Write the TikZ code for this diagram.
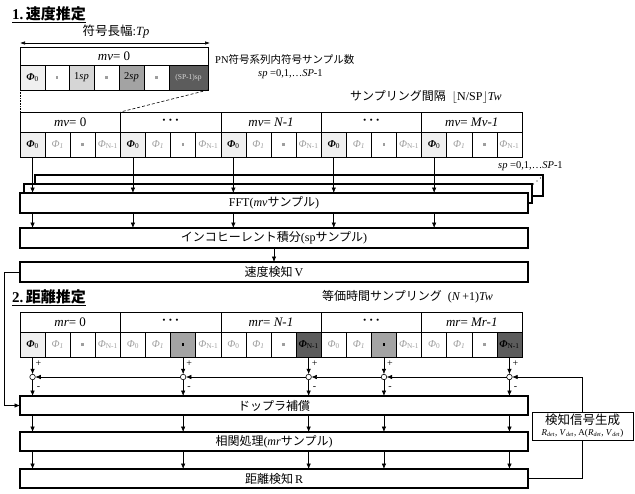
\documentclass[tikz,border=0pt]{standalone}
\usepackage{fontspec}
\setmainfont{Liberation Serif}
\newfontfamily\jp{Noto Sans CJK JP}
\usetikzlibrary{arrows.meta}
\definecolor{lgt}{gray}{0.62}
\definecolor{cz}{gray}{0.94}
\definecolor{cone}{gray}{0.84}
\definecolor{ctwo}{gray}{0.64}
\definecolor{cdark}{gray}{0.36}
\newcommand\PhZ{\textbf{\textit{Φ}}\textsubscript{0}}
\newcommand\PhZl{\textcolor{lgt}{\textit{Φ}\textsubscript{0}}}
\newcommand\PhO{\textcolor{lgt}{\textit{Φ}\textsubscript{\textit{1}}}}
\newcommand\PhN{\textcolor{lgt}{\textit{Φ}\textsubscript{N-1}}}
\newcommand\PhNb{\textbf{\textit{Φ}}\textsubscript{N-1}}
\newcommand\Sq[1]{\textcolor{#1}{\rule[0.6pt]{2.6pt}{2.6pt}}}
\tikzset{
  cell/.style={draw, line width=0.6pt, minimum width=25.1pt, minimum height=25pt, inner sep=0pt, outer sep=0pt, font=\fontsize{10.5}{11}\selectfont},
  hdr/.style={draw, line width=0.6pt, minimum width=100.4pt, minimum height=20pt, inner sep=0pt, outer sep=0pt, font=\fontsize{13}{14}\selectfont},
  box/.style={draw, line width=1.1pt, fill=white, minimum width=508pt, minimum height=20pt, inner sep=0pt, outer sep=0pt, font=\fontsize{12}{13}\selectfont},
  arr/.style={-{Latex[length=5.5pt,width=4.5pt]}, line width=0.6pt},
  jn/.style={circle, draw, fill=white, line width=0.6pt, minimum size=5.5pt, inner sep=0pt, outer sep=0pt},
  pm/.style={inner sep=0pt, font=\fontsize{10}{11}\selectfont},
  txt/.style={inner sep=0pt, anchor=west}
}
\begin{document}
\begin{tikzpicture}[x=1pt,y=-1pt]
\useasboundingbox (0,0) rectangle (635,493);
% ---------- titles
\node[txt, font=\fontsize{15}{16}\selectfont\bfseries] (t1) at (12,15) {\underline{1.\,{\jp 速度推定}}};
\node[txt, font=\fontsize{15}{16}\selectfont\bfseries] (t2) at (12,298) {\underline{2.\,{\jp 距離推定}}};
% ---------- symbol length
\coordinate (tpL) at (20,43);
\coordinate (tpR) at (210,43);
\draw[{Latex[length=5pt,width=3.5pt]}-{Latex[length=5pt,width=3.5pt]}, line width=0.6pt] (tpL) -- (tpR);
\node[inner sep=0pt, font=\fontsize{12.5}{13}\selectfont] (tp) at (116,32) {{\jp 符号長幅}:\textit{Tp}};
% ---------- small table
\node[draw, line width=0.6pt, minimum width=188pt, minimum height=18pt, inner sep=0pt, outer sep=0pt, font=\fontsize{13}{14}\selectfont] (smh) at (114,56) {\textit{mv}= 0};
\node[cell, fill=cz, minimum width=25pt] (s1) at (32.5,77.5) {\PhZ};
\node[cell, minimum width=24pt] (s2) at (57,77.5) {\Sq{lgt}};
\node[cell, fill=cone, minimum width=25pt] (s3) at (81.5,77.5) {1\textit{sp}};
\node[cell, minimum width=25pt] (s4) at (106.5,77.5) {\Sq{lgt}};
\node[cell, fill=ctwo, minimum width=25pt] (s5) at (131.5,77.5) {2\textit{sp}};
\node[cell, minimum width=25pt] (s6) at (156.5,77.5) {\Sq{lgt}};
\node[cell, fill=cdark, minimum width=39pt, font=\fontsize{7.5}{8}\selectfont] (s7) at (188.5,77.5) {\textcolor{gray!30}{(SP-1)sp}};
\node[txt, font=\fontsize{10.5}{12}\selectfont] (pn) at (215,60) {PN{\jp 符号系列内符号サンプル数}};
\node[txt, font=\fontsize{10.5}{12}\selectfont] (sp1) at (258,74) {\textit{sp} =0,1,\ldots\textit{SP}-1};
\node[txt, font=\fontsize{12}{13}\selectfont] (samp) at (350,97) {{\jp サンプリング間隔}\ \ $\lfloor$N/SP$\rfloor$\textit{Tw}};
% ---------- velocity table
\foreach \g/\t in {0/{\textit{mv}= 0},1/{\textbf{·\,·\,·}},2/{\textit{mv}= \textit{N-1}},3/{\textbf{·\,·\,·}},4/{\textit{mv}= \textit{Mv-1}}}{
  \pgfmathsetmacro\xl{20+100.4*\g}
  \node[hdr] (vh\g) at (\xl+50.2,122) {\t};
  \node[cell, fill=cz] (v\g-a) at (\xl+12.55,144.5) {\PhZ};
  \node[cell] (v\g-b) at (\xl+37.65,144.5) {\PhO};
  \node[cell] (v\g-c) at (\xl+62.75,144.5) {\Sq{lgt}};
  \node[cell] (v\g-d) at (\xl+87.85,144.5) {\PhN};
}
\draw[densely dotted, line width=0.6pt] (s1.south west) -- (vh0.north west);
\draw[densely dashed, line width=0.6pt] (s7.south east) -- (vh1.north west);
\node[txt, font=\fontsize{10.5}{12}\selectfont] (sp2) at (498,166) {\textit{sp} =0,1,\ldots\textit{SP}-1};
% ---------- FFT stack
\node[box, minimum height=21pt] (fftB) at (289,185.5) {};
\node[box, minimum height=19pt] (fftM) at (278,193.5) {};
\node[box] (fft) at (274,203) {FFT(\textit{mv}{\jp サンプル})};
\fill (533.5,184) circle (0.7pt) (537,181) circle (0.7pt) (540.5,178) circle (0.7pt);
\foreach \g in {0,...,4}{
  \draw[arr] (v\g-a.south) -- (v\g-a.south |- fft.north);
}
\node[box] (inc) at (274,238) {{\jp インコヒーレント積分}(sp{\jp サンプル})};
\foreach \g in {0,...,4}{
  \draw[arr] (v\g-a.south |- fft.south) -- (v\g-a.south |- inc.north);
}
\node[box] (vdet) at (274,272) {{\jp 速度検知}\,V};
\draw[arr] (inc.south) -- (vdet.north);
% ---------- range table
\node[txt, font=\fontsize{12}{13}\selectfont] (eq) at (322,297) {{\jp 等価時間サンプリング}\ \ (\textit{N}\,+1)\textit{Tw}};
\foreach \g/\t in {0/{\textit{mr}= 0},1/{\textbf{·\,·\,·}},2/{\textit{mr}= \textit{N-1}},3/{\textbf{·\,·\,·}},4/{\textit{mr}= \textit{Mr-1}}}{
  \pgfmathsetmacro\xl{20+100.4*\g}
  \node[hdr] (rh\g) at (\xl+50.2,322) {\t};
}
\node[cell, fill=cz] (r0-a) at (32.55,344.5) {\PhZ};
\node[cell] (r0-b) at (57.65,344.5) {\PhO};
\node[cell] (r0-c) at (82.75,344.5) {\Sq{lgt}};
\node[cell] (r0-d) at (107.85,344.5) {\PhN};
\node[cell] (r1-a) at (132.95,344.5) {\PhZl};
\node[cell] (r1-b) at (158.05,344.5) {\PhO};
\node[cell, fill=ctwo] (r1-c) at (183.15,344.5) {\Sq{black}};
\node[cell] (r1-d) at (208.25,344.5) {\PhN};
\node[cell] (r2-a) at (233.35,344.5) {\PhZl};
\node[cell] (r2-b) at (258.45,344.5) {\PhO};
\node[cell] (r2-c) at (283.55,344.5) {\Sq{lgt}};
\node[cell, fill=cdark] (r2-d) at (308.65,344.5) {\PhNb};
\node[cell] (r3-a) at (333.75,344.5) {\PhZl};
\node[cell] (r3-b) at (358.85,344.5) {\PhO};
\node[cell, fill=ctwo] (r3-c) at (383.95,344.5) {\Sq{black}};
\node[cell] (r3-d) at (409.05,344.5) {\PhN};
\node[cell] (r4-a) at (434.15,344.5) {\PhZl};
\node[cell] (r4-b) at (459.25,344.5) {\PhO};
\node[cell] (r4-c) at (484.35,344.5) {\Sq{lgt}};
\node[cell, fill=cdark] (r4-d) at (509.45,344.5) {\PhNb};
% ---------- junctions
\node[jn] (j1) at (32.55,377) {};
\node[jn] (j2) at (183.15,377) {};
\node[jn] (j3) at (308.65,377) {};
\node[jn] (j4) at (383.95,377) {};
\node[jn] (j5) at (509.45,377) {};
\foreach \j/\c in {1/r0-a,2/r1-c,3/r2-d,4/r3-c,5/r4-d}{
  \draw[arr] (\c.south) -- (j\j.north);
  \node[pm] at ([xshift=6pt]\c.south |- 0,364) {+};
  \node[pm] at ([xshift=6pt]\c.south |- 0,388) {-};
}
\node[box, minimum height=19pt] (dop) at (274,405.5) {{\jp ドップラ補償}};
\node[box, minimum height=19pt] (corr) at (274,441.5) {{\jp 相関処理}(\textit{mr}{\jp サンプル})};
\node[box, minimum height=19pt] (rdet) at (274,478.5) {{\jp 距離検知}\,R};
\foreach \j in {1,...,5}{
  \draw[arr] (j\j.south) -- (j\j |- dop.north);
  \draw[arr] (j\j |- dop.south) -- (j\j |- corr.north);
  \draw[arr] (j\j |- corr.south) -- (j\j |- rdet.north);
}
\draw[arr] (j2.west) -- (j1.east);
\draw[arr] (j3.west) -- (j2.east);
\draw[arr] (j4.west) -- (j3.east);
\draw[arr] (j5.west) -- (j4.east);
% ---------- detection signal generation
\node[draw, line width=0.8pt, fill=white, minimum width=101pt, minimum height=28pt, inner sep=1pt, align=center] (det) at (582.5,426) {{\jp\fontsize{12.5}{13}\selectfont 検知信号生成}\\[-1pt]{\fontsize{9}{10}\selectfont\textit{R}\textsubscript{\textit{det}}, \textit{V}\textsubscript{\textit{det}}, A(\textit{R}\textsubscript{\textit{det}}, \textit{V}\textsubscript{\textit{det}})}};
\draw[line width=0.6pt] (rdet.east) -| (det.south);
\draw[arr] (det.north) |- (j5.east);
% ---------- velocity feedback
\coordinate (fbc) at (4,272);
\draw[arr] (vdet.west) -- (fbc) |- (dop.west);
\end{tikzpicture}
\end{document}
